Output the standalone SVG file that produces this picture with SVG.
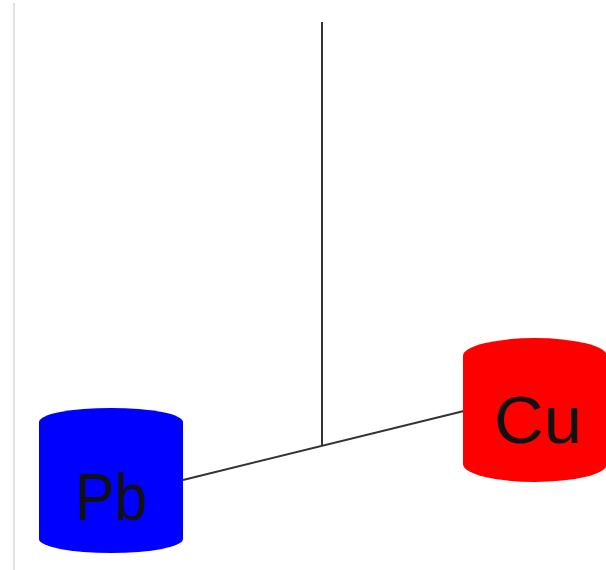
<svg xmlns="http://www.w3.org/2000/svg" width="606" height="570" viewBox="0 0 606 570">
<style>
.edge{stroke:#333;stroke-width:2;fill:none}
.lbl{font-family:"Liberation Sans",Arial,sans-serif;font-size:66px;fill:#111;text-anchor:middle}
</style>
<rect width="606" height="570" fill="#fff"/>
<line x1="14" y1="3" x2="14" y2="570" stroke="#e2e2de" stroke-width="2"/>
<g id="connectors">
<line class="edge" x1="322" y1="22" x2="322" y2="446"/>
<line class="edge" x1="183" y1="480" x2="464" y2="411"/>
</g>
<g id="Pb">
<path d="M39,422 A72,14 0 0 1 183,422 L183,539 A72,14 0 0 1 39,539 Z" fill="#0000ff"/>
<text class="lbl" x="111" y="520" textLength="72" lengthAdjust="spacingAndGlyphs">Pb</text>
</g>
<g id="Cu">
<path d="M463,356 A72,18 0 0 1 607,356 L607,464 A72,18 0 0 1 463,464 Z" fill="#ff0000"/>
<text class="lbl" x="538" y="443" textLength="88" lengthAdjust="spacingAndGlyphs">Cu</text>
</g>
</svg>
